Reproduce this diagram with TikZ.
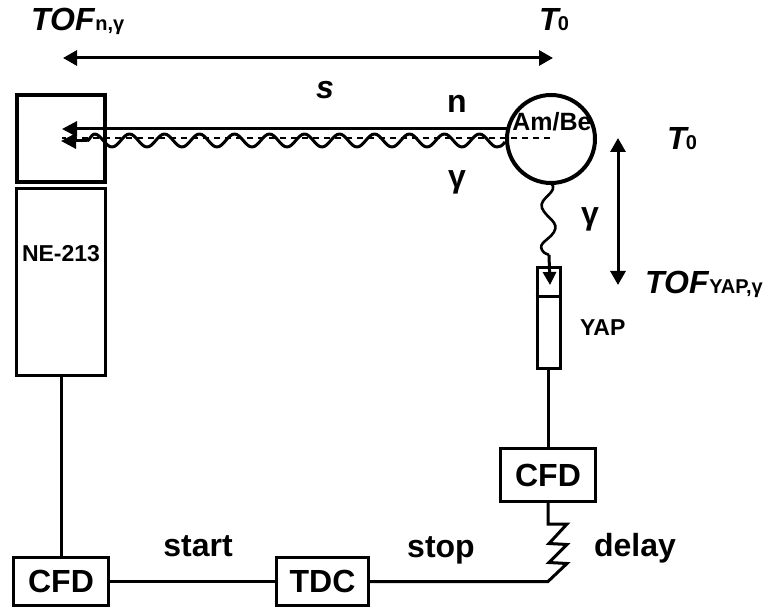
\documentclass[tikz,border=0pt]{standalone}
\usepackage{fontspec}
\setmainfont{Liberation Sans}
\usetikzlibrary{arrows.meta}
\tikzset{
  x=1pt,y=-1pt,
  wire/.style={line width=3pt},
  boxa/.style={draw,line width=3pt,fill=none,minimum width=#1,inner sep=0pt},
  lab/.style={font=\fontsize{32}{34}\selectfont\bfseries,inner sep=0pt},
  labs/.style={font=\fontsize{23}{25}\selectfont\bfseries,inner sep=0pt},
  tip/.style={-{Triangle[length=15pt,width=15pt]}},
  tips/.style={{Triangle[length=14pt,width=15pt]}-{Triangle[length=14pt,width=15pt]}},
}
\newcommand{\SubT}[2]{\textit{#1}{\fontsize{20}{22}\selectfont #2}}
\begin{document}
\begin{tikzpicture}
\useasboundingbox (0,0) rectangle (769,612);
% detectors
\node[draw,line width=4pt,minimum width=88pt,minimum height=87pt,inner sep=0pt] (top) at (61,138.5) {};
\node[boxa=89pt,minimum height=187pt] (ne) at (61,282) {};
\node[labs] at (61,254) {NE-213};
% source
\node[circle,draw,line width=4pt,minimum size=88pt,inner sep=0pt] (src) at (551,139) {};
\node[font=\fontsize{25}{27}\selectfont\bfseries,inner sep=0pt] at (552,122) {Am/Be};
% YAP
\node[boxa=23pt,minimum height=101pt] (yap) at (548.5,318.5) {};
\draw[wire] (yap.west |- 0,297) coordinate (ya) -- (yap.east |- 0,297) coordinate (yb);
% electronics
\node[boxa=95pt,minimum height=53pt,lab] (cfdb) at (548,475) {CFD};
\node[boxa=95pt,minimum height=48pt,lab] (cfda) at (61,581.5) {CFD};
\node[boxa=92pt,minimum height=48pt,lab] (tdc) at (322.5,581.5) {TDC};
\draw[wire] (ne.south) -- (cfda.north |- 0,556);
\draw[wire] (cfda.east) -- (tdc.west);
\draw[wire] (cfdb.north |- yap.south) -- (cfdb.north);
\coordinate (za) at (548,524);
\coordinate (zb) at (548,581.5);
\draw[wire,line join=miter] (cfdb.south) -- (za) -- (567,524) -- (549,543.5) -- (567,544.5) -- (549,562.5) -- (567,563.5) -- (zb) -- (tdc.east |- zb);
% particle paths
\coordinate (na) at (507,129);
\coordinate (nb) at (62,129);
\draw[line width=3pt,tip] (na) -- (nb);
\coordinate (da) at (550,138);
\coordinate (db) at (62,138);
\draw[line width=2pt,dash pattern=on 6pt off 5pt] (da) -- (db);
\coordinate (wa) at (505,142);
\coordinate (wt) at (497,147);
\coordinate (wb) at (87,141);
\coordinate (wc) at (61,141);
\draw[line width=3pt,line join=round] (wa) .. controls (502,146) and (500,147) .. (wt)
  \foreach \i in {1,...,11} { cos ++(-8.75,-6.5) sin ++(-8.75,-6.5) cos ++(-8.75,6.5) sin ++(-8.75,6.5) }
  cos ++(-8.75,-6.5) sin ++(-8.75,-6.5) .. controls +(-3,0) and +(2,0) .. (wb);
\draw[line width=3pt,tip] (wb) -- (wc);
% gamma to YAP
\coordinate (ga) at (551,183);
\coordinate (gb) at (549,255);
\coordinate (gc) at (550,285);
\draw[line width=2.6pt] (ga) .. controls (560,192) and (538,198) .. (542,208) .. controls (546,218) and (560,222) .. (554,232) .. controls (549,240) and (538,243) .. (542,250) .. controls (544,254) and (548,254) .. (gb);
\draw[line width=3pt,-{Triangle[length=13pt,width=13pt]}] (gb) -- (gc);
% dimension arrows
\coordinate (sa) at (63,58);
\coordinate (sb) at (553,58);
\draw[line width=3pt,tips] (sa) -- (sb);
\coordinate (va) at (618,138);
\coordinate (vb) at (618,285);
\draw[line width=3pt,tips] (va) -- (vb);
% labels
\node[lab,anchor=base west] at (31,31) {\SubT{TOF}{n,γ}};
\node[lab,anchor=base west] at (539,31) {\SubT{T\kern-1pt}{0}};
\node[lab,anchor=base west] at (667,150) {\SubT{T\kern-1pt}{0}};
\node[lab,anchor=base west] at (645,294) {\SubT{TOF}{YAP,γ}};
\node[lab,anchor=base] at (325,99) {\textit{s}};
\node[lab,anchor=base] at (457,113) {n};
\node[lab,anchor=base] at (457,188) {γ};
\node[lab,anchor=base] at (590,225) {γ};
\node[labs,anchor=base west] at (580,336) {YAP};
\node[lab,anchor=base] at (198,556) {start};
\node[lab,anchor=base] at (441,557) {stop};
\node[lab,anchor=base] at (635,556) {delay};
\end{tikzpicture}
\end{document}
